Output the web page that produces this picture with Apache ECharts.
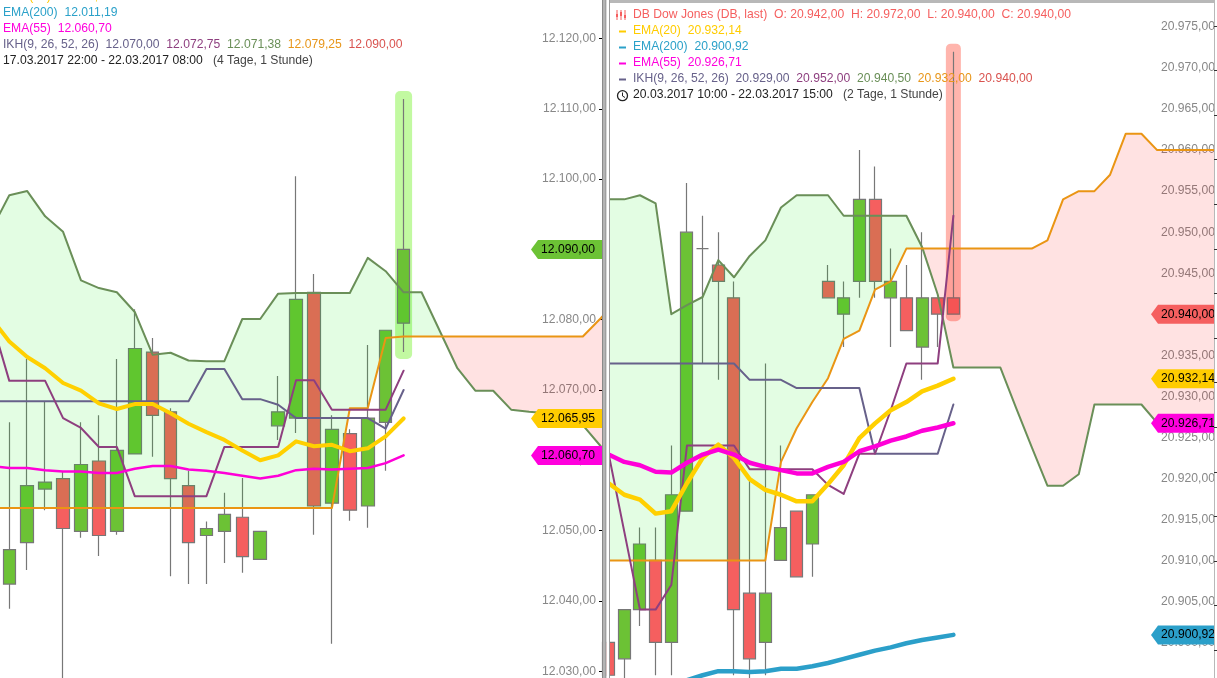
<!DOCTYPE html>
<html>
<head>
<meta charset="utf-8">
<style>html,body{margin:0;padding:0;background:#fff}#c{width:1217px;height:678px}</style>
<script src="https://cdn.jsdelivr.net/npm/echarts@6/dist/echarts.min.js"></script>
</head>
<body>
<div id="c"></div>
<script>
// ---------- left chart data (open, close, low, high) ----------
const leftCandles = [
 [12042.4,12047.3,12038.9,12065.4],[12048.3,12056.4,12044.4,12074.4],[12055.9,12056.9,12052.9,12068.3],
 [12057.4,12050.3,12028,12058.4],[12049.9,12059.4,12049,12065.4],[12059.9,12049.3,12046.4,12066.4],
 [12049.9,12061.4,12049.4,12074.4],[12060.9,12075.9,12060.9,12081.5],[12075.4,12066.4,12060.5,12077.4],
 [12066.9,12057.4,12043.5,12067.4],[12056.4,12048.3,12042.4,12058.5],[12049.3,12050.3,12042.4,12051.3],
 [12049.9,12052.3,12045.4,12055.4],[12051.9,12046.3,12044,12057.5],[12045.9,12049.9,12045.9,12049.9],
 [12064.9,12066.9,12062.9,12072],[12066,12082.9,12063.9,12100.4],[12083.9,12053.5,12049.4,12086.5],
 [12053.9,12064.4,12033.9,12066.4],[12063.8,12052.9,12051.4,12064.4],[12053.5,12066,12050.4,12076.4],
 [12065.4,12078.5,12058.5,12078.5],[12079.5,12090,12075.4,12111.4]
];
const leftSpanA = [12092.8,12097.7,12098.3,12094.7,12092.5,12085.6,12084.5,12083.9,12081.1,12075,12075.3,12074.2,12074.1,12074.1,12080.1,12080.1,12083.7,12083.8,12083.8,12083.8,12083.8,12088.8,12086.9,12083.9,12083.9,12078.5,12073.1,12069.9,12069.9,12067.2,12066.9,12066.7,12066.7,12065,12062,12059.5];
const leftSpanB = [12053.2,12053.2,12053.2,12053.2,12053.2,12053.2,12053.2,12053.2,12053.2,12053.2,12053.2,12053.2,12053.2,12053.2,12053.2,12053.2,12053.2,12053.2,12053.2,12053.2,12067.4,12067.4,12077.4,12077.6,12077.6,12077.6,12077.6,12077.6,12077.6,12077.6,12077.6,12077.6,12077.6,12077.6,12080.2,12083];
const leftKijun = [12068.4,12068.4,12068.4,12068.4,12068.4,12068.4,12068.4,12068.4,12068.4,12068.4,12068.4,12068.4,12073,12073,12068.7,12068.7,12067.9,12066,12066,12066,12066,12066,12064.5,12070];
const leftTenkan = [12080,12071.3,12071.3,12071.3,12066,12064.6,12061.9,12061.9,12054.9,12054.9,12054.9,12054.9,12054.9,12061.9,12061.9,12061.9,12061.9,12071.4,12071.4,12067.2,12067.2,12067.2,12067.2,12072.75];
const leftEma20 = [12080.2,12076.9,12074.7,12073.1,12071,12069.9,12068.1,12067.3,12068,12068,12066.7,12065.2,12064,12062.9,12061.4,12060,12060.7,12062.7,12062,12062.2,12061.3,12061.7,12063.4,12065.95];
const leftEma55 = [12059.2,12058.9,12058.9,12058.6,12058.4,12058.4,12058.2,12058.2,12058.8,12059.2,12059.2,12058.7,12058.5,12058.2,12057.8,12057.4,12057.8,12058.6,12058.8,12058.7,12058.8,12058.9,12059.6,12060.7];
const leftTags = [12090, 12065.95, 12060.70];
const leftTagColors = ['#6cc235', '#ffcc00', '#ff00dd'];

// ---------- right chart data (open, close, low, high) ----------
const rightCandles = [
 [20900,20896,20894,20900],[20898,20904,20894,20904],[20904,20912,20902,20914],[20910,20900,20896,20914],
 [20900,20918,20896,20924],[20916,20950,20916,20956],[20948,20948,20934,20952],[20946,20944,20932,20950],
 [20942,20904,20896,20944],[20906,20898,20894,20920],[20900,20906,20896,20934],[20910,20914,20910,20924],
 [20916,20908,20908,20916],[20912,20918,20908,20918],[20944,20942,20942,20946],[20940,20942,20936,20944],
 [20944,20954,20942,20960],[20954,20944,20942,20958],[20942,20944,20936,20948],[20942,20938,20938,20946],
 [20936,20942,20932,20950],[20942,20940,20936,20942],[20942,20940,20940,20972]
];
const rightSpanA = [20954,20954,20954.5,20953.5,20940,20941.1,20942.1,20946.6,20944.5,20947.1,20949,20953,20954.5,20954.5,20954.5,20952,20952,20952,20952,20952,20948.2,20942.4,20933.5,20933.5,20933.5,20933.5,20928.6,20923.8,20919.1,20919.1,20920.5,20929,20929,20929,20929,20926.75,20926.7,20926.7,20926.7,20926.7];
const rightSpanB = [20910,20910,20910,20910,20910,20910,20910,20910,20910,20910,20910,20922,20926.1,20929.3,20932.2,20937,20938,20943,20944,20948,20948,20948,20948,20948,20948,20948,20948,20948,20949,20954,20955,20955,20957,20962,20962,20960,20960,20960,20960,20960];
const rightKijun = [20934,20934,20934,20934,20934,20934,20934,20934,20934,20932,20932,20932,20931,20931,20931,20931,20931,20923,20923,20923,20923,20923,20929];
const rightTenkan = [20923,20913.5,20904,20904,20907,20924,20924,20924,20924,20921.1,20921.1,20921.1,20921.1,20921.1,20919.2,20918.1,20923,20923,20928.3,20934,20934,20934,20952];
const rightEma20 = [20919.4,20918,20917.4,20915.7,20916,20919.4,20922.5,20924.1,20922.5,20919.9,20918.6,20918,20917.2,20917.2,20919.3,20921.6,20924.9,20926.7,20928.3,20929.3,20930.6,20931.3,20932.14];
const rightEma55 = [20922.9,20922,20921.6,20920.8,20920.7,20921.9,20922.9,20923.5,20922.9,20921.9,20921.4,20921,20920.6,20920.6,20921.4,20922,20923.3,20923.9,20924.6,20925.1,20925.8,20926.2,20926.71];
const rightEma200 = [20894.7,20895.4,20896,20896.5,20896.5,20896.4,20896.5,20896.8,20896.8,20897.1,20897.5,20898,20898.5,20899,20899.4,20899.9,20900.3,20900.6,20900.92];
const rightTags = [20940, 20932.14, 20926.71, 20900.92];
const rightTagColors = ['#f55f5f', '#ffcc00', '#ff00dd', '#2b9fc9'];

// ---------- legend texts ----------
const YEL='#ffcc00', BLU='#2ba1c9', MAG='#ff00dd', IKH='#67618a', PUR='#8e3f7f', GRN='#6a8f58', ORA='#e8961a', RED='#d9534f', SER='#f55f5f', BLK='#222222', DGR='#444444';
const leftLegend = [
 [[YEL,'EMA(20)  12.065,95']],
 [[BLU,'EMA(200)  12.011,19']],
 [[MAG,'EMA(55)  12.060,70']],
 [[IKH,'IKH(9, 26, 52, 26)  12.070,00  '],[PUR,'12.072,75  '],[GRN,'12.071,38  '],[ORA,'12.079,25  '],[RED,'12.090,00']],
 [[BLK,'17.03.2017 22:00 - 22.03.2017 08:00   '],[DGR,'(4 Tage, 1 Stunde)']]
];
const rightLegend = [
 [[SER,'DB Dow Jones (DB, last)  O: 20.942,00  H: 20.972,00  L: 20.940,00  C: 20.940,00']],
 [[YEL,'EMA(20)  20.932,14']],
 [[BLU,'EMA(200)  20.900,92']],
 [[MAG,'EMA(55)  20.926,71']],
 [[IKH,'IKH(9, 26, 52, 26)  20.929,00  '],[PUR,'20.952,00  '],[GRN,'20.940,50  '],[ORA,'20.932,00  '],[RED,'20.940,00']],
 [[BLK,'20.03.2017 10:00 - 22.03.2017 15:00   '],[DGR,'(2 Tage, 1 Stunde)']]
];
const FONT = '12.15px "Liberation Sans", Arial, sans-serif';

// ---------- helpers ----------
const fmt = v => { const s = v.toFixed(2).split('.'); return s[0].replace(/\B(?=(\d{3})+$)/g,'.') + ',' + s[1]; };
const pts = (start, arr) => arr.map((v,i)=>[start+i, v]);

function cloudRuns(start, a, b) {
  const runs = []; let cur = null;
  const push = (sign) => { cur = {sign, up:[], lo:[]}; runs.push(cur); };
  for (let i=0;i<a.length;i++) {
    const x = start+i, s = a[i]>=b[i]?1:-1;
    if (!cur) push(s);
    if (s!==cur.sign) {
      const d0=a[i-1]-b[i-1], d1=a[i]-b[i], t=d0/(d0-d1);
      const cx=x-1+t, cy=a[i-1]+(a[i]-a[i-1])*t;
      cur.up.push([cx,cy]); cur.lo.push([cx,cy]);
      push(s);
      cur.up.push([cx,cy]); cur.lo.push([cx,cy]);
    }
    cur.up.push([x,a[i]]); cur.lo.push([x,b[i]]);
  }
  return runs;
}
function cloudSeries(xi, start, a, b) {
  const runs = cloudRuns(start,a,b);
  return {
    type:'custom', xAxisIndex:xi, yAxisIndex:xi, z:3, clip:true, silent:true,
    data: runs.map((r,i)=>[r.up[0][0], r.up[0][1]]),
    encode:{x:0,y:1},
    renderItem:(p,api)=>{
      const r = runs[p.dataIndex];
      const points = r.up.concat(r.lo.slice().reverse()).map(q=>api.coord(q));
      return {type:'polygon', shape:{points}, style:{fill:r.sign>0?'rgba(0,236,0,0.11)':'rgba(255,0,0,0.115)'}};
    }
  };
}
function candleSeries(xi, arr, w) {
  return {
    type:'candlestick', xAxisIndex:xi, yAxisIndex:xi, z:2, barWidth:w, silent:true,
    data: arr.map((c,i)=>[i,c[0],c[1],c[2],c[3]]),
    itemStyle:{color:'#6cc235',color0:'#f55f5f',borderColor:'#777777',borderColor0:'#777777',borderWidth:1.2}
  };
}
function lineSeries(xi, start, arr, color, width, z) {
  return {type:'line', xAxisIndex:xi, yAxisIndex:xi, z:z||4, data:pts(start,arr), showSymbol:false, silent:true,
    lineStyle:{color,width,cap:'round',join:'round'}, animation:false};
}
function highlightSeries(xi, idx, candle, color, w) {
  return {
    type:'custom', xAxisIndex:xi, yAxisIndex:xi, z:1, silent:true, clip:false,
    data:[[idx, candle[3], candle[2]]], encode:{x:0,y:[1,2]},
    renderItem:(p,api)=>{
      const t = api.coord([api.value(0),api.value(1)]), b = api.coord([api.value(0),api.value(2)]);
      return {type:'rect', shape:{x:t[0]-w/2,y:t[1]-8,width:w,height:b[1]-t[1]+15,r:5}, style:{fill:color}};
    }
  };
}
function tagSeries(xi, values, colors, tipW, textX) {
  return {
    type:'custom', xAxisIndex:xi, yAxisIndex:xi, z:6, silent:true, clip:false,
    data: values.map(v=>[0,v]), encode:{y:1},
    renderItem:(p,api)=>{
      const v = values[p.dataIndex], y = api.coord([0,v])[1];
      const right = p.coordSys.x + p.coordSys.width, l = right - tipW;
      return {type:'group', children:[
        {type:'polygon', shape:{points:[[l,y],[l+7,y-9.5],[right,y-9.5],[right,y+9.5],[l+7,y+9.5]]}, style:{fill:colors[p.dataIndex]}},
        {type:'text', style:{text:fmt(v), x:l+textX, y:y, verticalAlign:'middle', fill:'#000', font:FONT}}
      ]};
    }
  };
}
function legendText(rows, x, y0, step) {
  return rows.map((row,r)=>{
    const rich = {}; let text='';
    row.forEach((sp,i)=>{ rich['s'+i] = {fill:sp[0], font:FONT}; text += '{s'+i+'|'+sp[1]+'}'; });
    return {type:'text', z:50, silent:true, style:{text, rich, x, y:y0+r*step, font:FONT, verticalAlign:'middle'}};
  });
}
const rect = (x,y,w,h,fill,z) => ({type:'rect', z:z||100, silent:true, shape:{x,y,width:w,height:h}, style:{fill}});
const seg = (x1,y1,x2,y2,stroke,lw) => ({type:'line', z:50, silent:true, shape:{x1,y1,x2,y2}, style:{stroke,lineWidth:lw||1}});

const axisLabelBase = {inside:true, color:'#888888', fontFamily:'"Liberation Sans", Arial, sans-serif', fontSize:12.15, padding:[0,0,3,0], formatter:v=>fmt(v), showMinLabel:true, showMaxLabel:true};

const option = {
  animation:false,
  backgroundColor:'#ffffff',
  grid:[
    {left:0, width:602, top:-31.8, height:773.3, outerBoundsMode:'none'},
    {left:610, width:604, top:-14, height:738.5, outerBoundsMode:'none'},
    {left:1000, width:217, top:-18.8, height:892, outerBoundsMode:'none'}
  ],
  xAxis:[
    {type:'value', gridIndex:0, min:-0.519, max:33.07, show:false},
    {type:'value', gridIndex:1, min:0.089, max:38.63, show:false},
    {type:'value', gridIndex:2, min:0, max:1, show:false}
  ],
  yAxis:[
    {type:'value', gridIndex:0, position:'right', min:12020, max:12130, interval:10, scale:true, splitLine:{show:false},
      axisLine:{show:false, onZero:false}, axisTick:{show:true, inside:true, length:3, lineStyle:{color:'#000'}},
      axisLabel:Object.assign({},axisLabelBase,{margin:6})},
    {type:'value', gridIndex:1, position:'right', min:20890, max:20980, interval:5, scale:true, splitLine:{show:false},
      axisLine:{show:false, onZero:false}, axisTick:{show:false},
      axisLabel:Object.assign({},axisLabelBase,{margin:-1})},
    {type:'value', gridIndex:2, position:'right', z:120, min:0, max:100, interval:5, splitLine:{show:false},
      axisLine:{show:false, onZero:false}, axisTick:{show:true, inside:true, length:3, lineStyle:{color:'#333'}}, axisLabel:{show:false}}
  ],
  series:[
    highlightSeries(0, leftCandles.length-1, leftCandles[leftCandles.length-1], 'rgba(110,240,30,0.42)', 17),
    candleSeries(0, leftCandles, 13),
    cloudSeries(0, -1, leftSpanA, leftSpanB),
    lineSeries(0,-1,leftSpanA,'#6a8f58',2),
    lineSeries(0,-1,leftSpanB,'#ea9514',2),
    lineSeries(0,-1,leftKijun,'#67618a',2),
    lineSeries(0,-1,leftTenkan,'#8e3f7f',2),
    lineSeries(0,-1,leftEma55,'#ff00d8',2.5),
    lineSeries(0,-1,leftEma20,'#ffd000',4),
    tagSeries(0,leftTags,leftTagColors,71,10),

    highlightSeries(1, rightCandles.length-1, rightCandles[rightCandles.length-1], 'rgba(255,60,40,0.38)', 15),
    candleSeries(1, rightCandles, 12.5),
    cloudSeries(1, 0, rightSpanA, rightSpanB),
    lineSeries(1,0,rightSpanA,'#6a8f58',2),
    lineSeries(1,0,rightSpanB,'#ea9514',2),
    lineSeries(1,0,rightKijun,'#67618a',2),
    lineSeries(1,0,rightTenkan,'#8e3f7f',2),
    lineSeries(1,0,rightEma20,'#ffd000',4.5),
    lineSeries(1,0,rightEma55,'#ff00d8',4.5),
    lineSeries(1,4,rightEma200,'#2b9fc9',4.5),
    tagSeries(1,rightTags,rightTagColors,63,10)
  ],
  graphic:{elements:[
    rect(602,0,4.5,678,'#b4b4b4'), rect(602,0,1,678,'#8a8a8a'), rect(605.5,0,1,678,'#8a8a8a'),
    rect(606.5,0,2.5,678,'#ffffff'), rect(609,0,1,678,'#9a9a9a'),
    rect(610,0,604,3,'#b8b8b8'),
    rect(1214,0,3,678,'#ffffff',90), rect(1214,0,1,678,'#b8b8b8',91),
    ...legendText(leftLegend, 3, -3.3, 16),
    ...legendText(rightLegend, 633, 15, 16),
    // series-key icons
    seg(617,10,617,20,'#f55f5f'), seg(621,10,621,20,'#f55f5f'), seg(625,10,625,20,'#f55f5f'),
    rect(616,14,2,3,'#f55f5f',51), rect(620,12,2,4,'#f55f5f',51), rect(624,15,2,3,'#f55f5f',51),
    seg(619,31.5,626,31.5,'#ffcc00',2), seg(619,47.5,626,47.5,'#2ba1c9',2),
    seg(619,63.5,626,63.5,'#ff00dd',2), seg(619,79.5,626,79.5,'#67618a',2),
    {type:'circle', z:50, silent:true, shape:{cx:622.5,cy:95.7,r:5}, style:{fill:'none',stroke:'#222',lineWidth:1.3}},
    seg(622.5,92.5,622.5,96,'#222'), seg(622.5,96,625,97.5,'#222')
  ]}
};
const chart = echarts.init(document.getElementById('c'), null, {renderer:'canvas', width:1217, height:678});
chart.setOption(option);
</script>
</body>
</html>
